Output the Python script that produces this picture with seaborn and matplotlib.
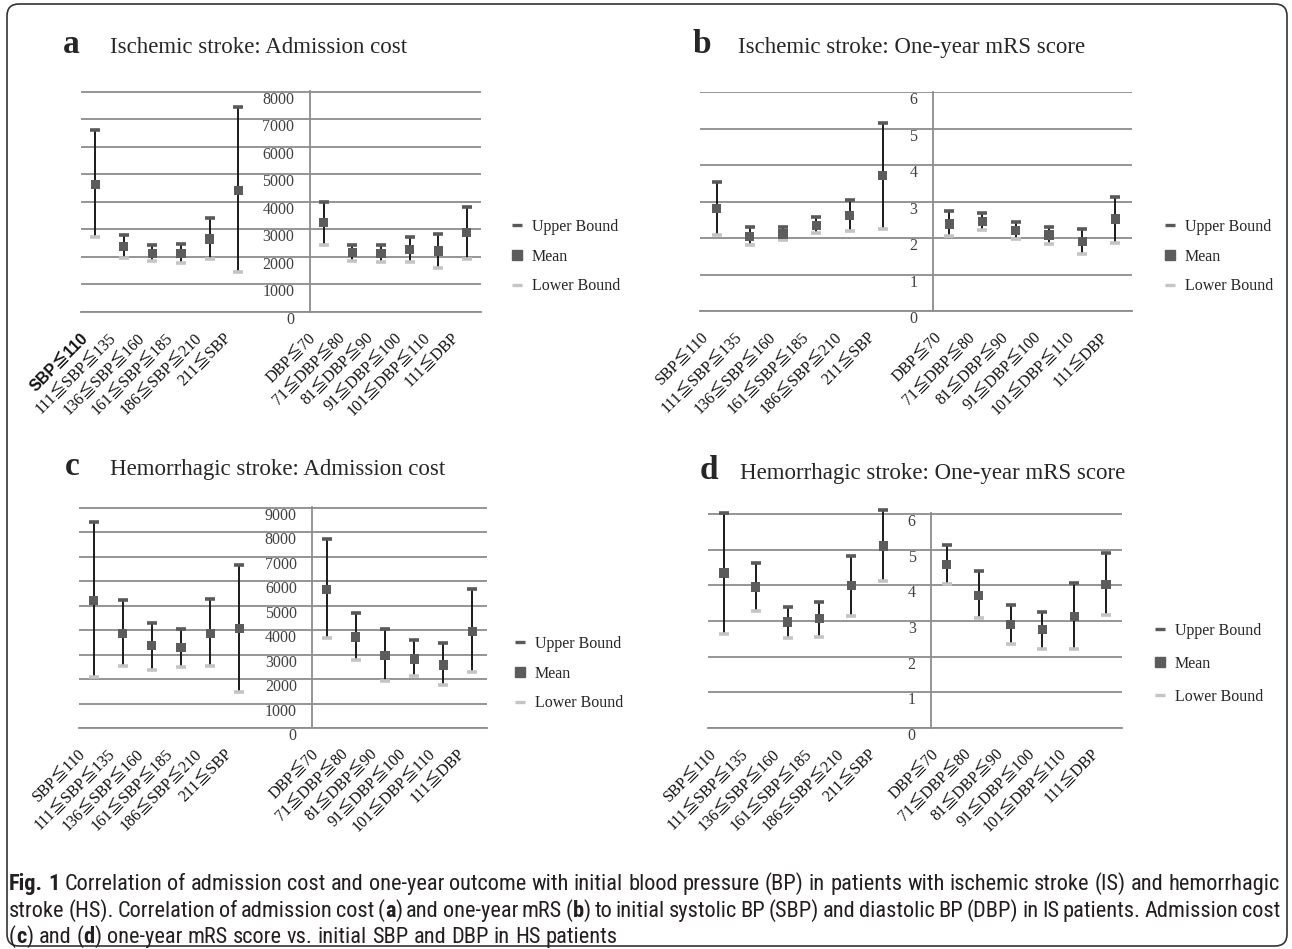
import matplotlib
matplotlib.use('Agg')
import matplotlib.pyplot as plt
import matplotlib.lines as mlines
from matplotlib import font_manager
from matplotlib.patches import FancyBboxPatch
from matplotlib.transforms import ScaledTranslation, IdentityTransform
import numpy as np
import pandas as pd
import seaborn as sns

W, H = 1292, 949

# categories; the Excel charts keep empty slots between the SBP and DBP groups
sbp_labels = ['SBP≦110', '111≦SBP≦135', '136≦SBP≦160', '161≦SBP≦185', '186≦SBP≦210', '211≦SBP']
dbp_labels = ['DBP≦70', '71≦DBP≦80', '81≦DBP≦90', '91≦DBP≦100', '101≦DBP≦110', '111≦DBP']
cost_categories = sbp_labels + ['', ''] + dbp_labels
mrs_categories = sbp_labels + [''] + dbp_labels

# a: ischemic stroke, admission cost
a_mean = [4640, 2390, 2130, 2130, 2650, 4410, 3240, 2150, 2130, 2260, 2220, 2880]
a_upper = [6600, 2790, 2440, 2480, 3420, 7460, 3980, 2440, 2440, 2710, 2830, 3810]
a_lower = [2710, 1980, 1850, 1780, 1910, 1460, 2440, 1850, 1810, 1810, 1600, 1910]

# b: ischemic stroke, one-year mRS
b_mean = [2.82, 2.05, 2.12, 2.35, 2.63, 3.72, 2.39, 2.46, 2.22, 2.09, 1.92, 2.53]
b_upper = [3.55, 2.32, 2.32, 2.59, 3.05, 5.15, 2.76, 2.69, 2.45, 2.32, 2.25, 3.13]
b_lower = [2.09, 1.83, 1.95, 2.15, 2.20, 2.25, 2.06, 2.22, 1.98, 1.85, 1.56, 1.88]

# c: hemorrhagic stroke, admission cost
c_mean = [5220, 3870, 3370, 3280, 3870, 4070, 5670, 3720, 2970, 2820, 2580, 3960]
c_upper = [8410, 5240, 4310, 4040, 5280, 6680, 7720, 4720, 4040, 3580, 3470, 5670]
c_lower = [2090, 2540, 2370, 2480, 2540, 1480, 3690, 2780, 1930, 2140, 1740, 2290]

# d: hemorrhagic stroke, one-year mRS
d_mean = [4.34, 3.95, 2.97, 3.06, 4.00, 5.10, 4.58, 3.72, 2.90, 2.75, 3.13, 4.03]
d_upper = [6.03, 4.62, 3.40, 3.53, 4.82, 6.11, 5.14, 4.39, 3.45, 3.25, 4.07, 4.90]
d_lower = [2.63, 3.29, 2.51, 2.56, 3.13, 4.11, 4.04, 3.07, 2.35, 2.20, 2.20, 3.18]

legend_labels = ['Upper Bound', 'Mean', 'Lower Bound']

sns.set_style('white')
serif = ['Liberation Serif', 'Noto Sans CJK TC', 'DejaVu Serif']
plt.rcParams['font.family'] = serif

installed = {f.name for f in font_manager.fontManager.ttflist}
cap_family = next((n for n in ['Liberation Sans Narrow', 'Roboto Condensed', 'Open Sans Condensed']
                   if n in installed), 'Roboto')

grid_col = '#8c8c8c'
upper_col = '#595959'
lower_col = '#c4c4c4'
mean_col = '#5c5c5c'

fig = plt.figure(figsize=(W / 100, H / 100), dpi=100)


def px_axes(x0, y0, x1, y1):
    return fig.add_axes([x0 / W, 1 - y1 / H, (x1 - x0) / W, (y1 - y0) / H])


def draw_panel(ax, categories, mean, upper, lower, ymax, ystep, bold_first=False):
    df = pd.DataFrame({'group': sbp_labels + dbp_labels,
                       'mean': mean, 'upper': upper, 'lower': lower})
    df['slot'] = [categories.index(g) for g in df['group']]
    n = len(categories)
    axis_pos = len(sbp_labels) + (n - 12) - 0.5   # y axis sits after the empty slots

    ax.vlines(df['slot'], df['lower'], df['upper'], color='#1a1a1a', lw=1.4, zorder=3, clip_on=False)
    ax.scatter(df['slot'], df['upper'], marker='_', s=50, lw=2.6, color=upper_col, zorder=4, clip_on=False)
    ax.scatter(df['slot'], df['lower'], marker='_', s=50, lw=2.6, color=lower_col, zorder=4, clip_on=False)
    sns.scatterplot(data=df, x='slot', y='mean', marker='s', s=44, color=mean_col,
                    edgecolor='none', ax=ax, zorder=5, legend=False)

    ax.set_xlim(-0.5, n - 0.5)
    ax.set_ylim(0, ymax * 1.004)
    ax.set_yticks(np.arange(0, ymax + ystep / 2, ystep))
    ax.set_xlabel('')
    ax.set_ylabel('')
    ax.yaxis.grid(True, color=grid_col, lw=1.3)
    ax.xaxis.grid(False)
    ax.set_axisbelow(True)
    for s in ['top', 'right']:
        ax.spines[s].set_visible(False)
    ax.spines['left'].set_position(('data', axis_pos))
    for s in ['left', 'bottom']:
        ax.spines[s].set_color(grid_col)
        ax.spines[s].set_linewidth(1.3)

    ax.tick_params(axis='y', length=0, pad=11, labelsize=11.5, labelcolor='#404040')
    for lab in ax.get_yticklabels():
        lab.set_transform(lab.get_transform() + ScaledTranslation(0, -0.06, fig.dpi_scale_trans))

    ax.set_xticks(range(n))
    ax.set_xticklabels(categories, rotation=45, ha='right', va='center',
                       rotation_mode='anchor', fontsize=11.5, color='#111111')
    ax.set_xticks(np.arange(-0.5, n, 1), minor=True)
    ax.tick_params(axis='x', which='major', length=0, pad=17)
    ax.tick_params(axis='x', which='minor', length=4, width=1.2, color=grid_col, direction='out')
    for lab in ax.get_xticklabels():
        lab.set_transform(lab.get_transform() + ScaledTranslation(-0.10, 0, fig.dpi_scale_trans))
    if bold_first:
        first = ax.get_xticklabels()[0]
        first.set_fontfamily(['Liberation Sans', 'Noto Sans CJK TC', 'DejaVu Sans'])
        first.set_fontweight('bold')


def add_legend(x, y, spacing):
    handles = [
        mlines.Line2D([], [], ls='none', marker='_', ms=7, mew=2.4, color=upper_col),
        mlines.Line2D([], [], ls='none', marker='s', ms=6.5, color=mean_col),
        mlines.Line2D([], [], ls='none', marker='_', ms=7, mew=2.4, color=lower_col),
    ]
    fig.legend(handles, legend_labels, loc='upper left', bbox_to_anchor=(x / W, 1 - y / H),
               frameon=False, fontsize=11.5, handlelength=0.7, handletextpad=0.6,
               labelspacing=spacing, borderpad=0, borderaxespad=0)


def add_title(letter, lx, tx, base, text):
    fig.text(lx / W, 1 - base / H, letter, fontsize=24, fontweight='bold', va='baseline', ha='left')
    fig.text(tx / W, 1 - base / H, text, fontsize=16.5, va='baseline', ha='left')


ax_a = px_axes(81, 91, 481, 312)
draw_panel(ax_a, cost_categories, a_mean, a_upper, a_lower, 8000, 1000, bold_first=True)
ax_b = px_axes(700, 91.5, 1132, 311.3)
draw_panel(ax_b, mrs_categories, b_mean, b_upper, b_lower, 6, 1)
ax_c = px_axes(79, 507, 487, 728)
draw_panel(ax_c, cost_categories, c_mean, c_upper, c_lower, 9000, 1000)
ax_d = px_axes(708, 513, 1122, 728)
draw_panel(ax_d, mrs_categories, d_mean, d_upper, d_lower, 6, 1)

add_title('a', 63, 110, 53, 'Ischemic stroke: Admission cost')
add_title('b', 693, 738, 53, 'Ischemic stroke: One-year mRS score')
add_title('c', 65, 110, 475, 'Hemorrhagic stroke: Admission cost')
add_title('d', 700, 740, 479, 'Hemorrhagic stroke: One-year mRS score')

add_legend(511, 219, 0.85)
add_legend(1164, 219, 0.85)
add_legend(514, 636, 0.85)
add_legend(1154, 623, 1.05)

# caption, drawn word by word so the first two lines can be justified
cap_lines = [
    [('Fig. 1', 'bold'), (' Correlation of admission cost and one-year outcome with initial blood pressure (BP) '
                          'in patients with ischemic stroke (IS) and hemorrhagic', 'normal')],
    [('stroke (HS). Correlation of admission cost (', 'normal'), ('a', 'bold'),
     (') and one-year mRS (', 'normal'), ('b', 'bold'),
     (') to initial systolic BP (SBP) and diastolic BP (DBP) in IS patients. Admission cost', 'normal')],
    [('(', 'normal'), ('c', 'bold'), (') and (', 'normal'), ('d', 'bold'),
     (') one-year mRS score vs. initial SBP and DBP in HS patients', 'normal')],
]
renderer = fig.canvas.get_renderer()
cap_kw = dict(family=cap_family, fontstretch='condensed')


def split_words(pieces):
    segs = [[]]
    for txt, weight in pieces:
        for i, p in enumerate(txt.split(' ')):
            if i > 0:
                segs.append([])
            if p:
                segs[-1].append((p, weight))
    return [s for s in segs if s]


def text_w(txt, weight, size):
    t = fig.text(0, 0, txt, fontsize=size, fontweight=weight, **cap_kw)
    w = t.get_window_extent(renderer).width
    t.remove()
    return w


def natural_width(pieces, size):
    segs = split_words(pieces)
    space = text_w('x x', 'normal', size) - text_w('xx', 'normal', size)
    return sum(text_w(p, wt, size) for s in segs for p, wt in s) + space * (len(segs) - 1)


cap_size = 10 * (1266 / natural_width(cap_lines[0], 10))
nat_space = text_w('x x', 'normal', cap_size) - text_w('xx', 'normal', cap_size)
for li, (pieces, base) in enumerate(zip(cap_lines, [890, 917, 943])):
    segs = split_words(pieces)
    widths = [[text_w(p, wt, cap_size) for p, wt in s] for s in segs]
    total = sum(sum(w) for w in widths)
    space = (1271 - total) / (len(segs) - 1) if li < 2 else nat_space
    x = 9
    for s, ws in zip(segs, widths):
        for (p, wt), w in zip(s, ws):
            fig.text(x / W, 1 - base / H, p, fontsize=cap_size, fontweight=wt, va='baseline', ha='left',
                     color='#231f20', **cap_kw)
            x += w
        x += space

frame = FancyBboxPatch((7, 3), 1280, 942, boxstyle='round,pad=0,rounding_size=12',
                       transform=IdentityTransform(), fill=False, edgecolor='#333333', lw=1.2)
fig.add_artist(frame)

fig.savefig('out.png', dpi=100)
